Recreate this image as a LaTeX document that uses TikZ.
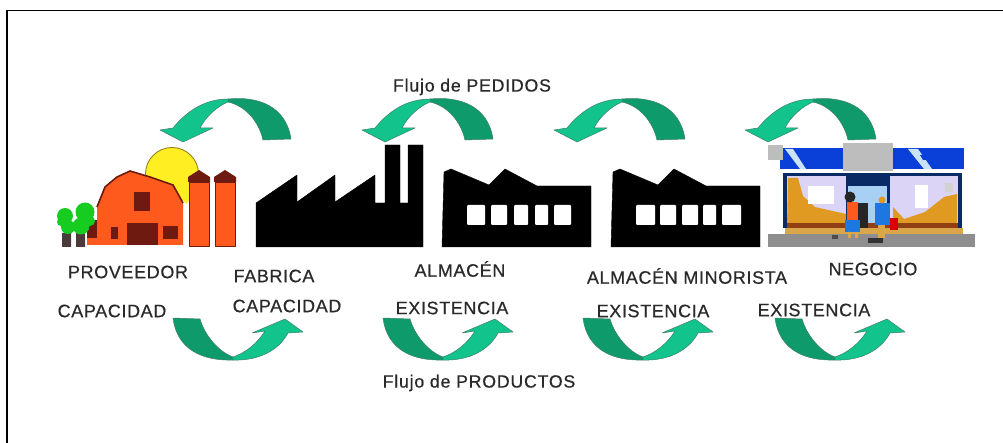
\documentclass[tikz,border=0pt]{standalone}
\usepackage{fontspec}
\setmainfont{Liberation Sans}
\newfontfamily\labfont[LetterSpace=3.5,FakeBold=0.6]{Liberation Sans}
\newfontfamily\flowfont[LetterSpace=4.5,FakeBold=0.6]{Liberation Sans}
\definecolor{arrowdark}{HTML}{0F9A6C}
\definecolor{arrowlight}{HTML}{12C48C}
\definecolor{arrowline}{HTML}{3F7F6A}
\definecolor{barn}{HTML}{FF5A1E}
\definecolor{barnline}{HTML}{6E1A10}
\definecolor{sunfill}{HTML}{FFEE22}
\definecolor{sunline}{HTML}{8A7A10}
\definecolor{treefill}{HTML}{16CC20}
\definecolor{trunk}{HTML}{4A3A3A}
\definecolor{awning}{HTML}{0A3FD8}
\definecolor{frameblue}{HTML}{0A2A66}
\definecolor{boxgray}{HTML}{BDBDBD}
\definecolor{walkgray}{HTML}{8E8E8E}
\definecolor{glass}{HTML}{DCD4F6}
\definecolor{goods}{HTML}{E09A22}
\definecolor{tan}{HTML}{DBA64A}
\definecolor{doorblue}{HTML}{A8D0F4}
\definecolor{shopperblue}{HTML}{1C78E0}
\definecolor{labelcolor}{HTML}{2A2A2A}
\tikzset{
  x=1pt,y=-1pt,
  lab/.style={text=labelcolor,inner sep=0pt,font=\fontsize{18}{18}\selectfont\labfont},
  flow/.style={text=labelcolor,inner sep=0pt,font=\fontsize{17.7}{18}\selectfont\flowfont},
  adark/.style={fill=arrowdark,draw=arrowline,line width=.5pt,line join=round},
  alight/.style={fill=arrowlight,draw=arrowline,line width=.5pt,line join=round},
  blackshape/.style={fill=black,draw=black,line width=.4pt,line join=round},
  barnpart/.style={fill=barn,draw=barnline,line width=.8pt,line join=round},
  darkpart/.style={fill=barnline,draw=none},
  pics/toparrow/.style={code={
    \path[adark] (0,-1) .. controls (30,-4) and (58,6) .. (63,39) -- (35,40) .. controls (31,22) and (18,6) .. (0,2) -- cycle;
    \path[alight] (0,-1) .. controls (-24,-1) and (-42,12) .. (-55,28) -- (-68,30) -- (-45,42) -- (-15,28) -- (-28,28) .. controls (-22,16) and (-10,6) .. (0,2) -- cycle;
  }},
  pics/botarrow/.style={code={
    \path[adark] (0,2) .. controls (-30,3) and (-56,-8) .. (-60,-40) -- (-33,-39) .. controls (-28,-22) and (-14,-6) .. (0,-1) -- cycle;
    \path[alight] (0,2) .. controls (26,3) and (46,-8) .. (55,-25) -- (70,-26) -- (52,-39) -- (19,-25) -- (32,-27) .. controls (24,-14) and (12,-5) .. (0,-1) -- cycle;
  }},
  pics/silo/.style={code={
    \path[barnpart] (-10,2) rectangle (10,66);
    \path[fill=barnline] (-11,-3) -- (0,-10) -- (11,-3) -- (11,2) -- (-11,2) -- cycle;
  }},
  pics/depot/.style={code={
    \path[blackshape] (0,74) -- (2,-1) -- (9,-4) -- (47,12) -- (63,-4) -- (95,13) -- (149,13) -- (149,74) -- cycle;
  }},
  win/.style={fill=white,draw=none,rounded corners=1pt}
}
\begin{document}
\begin{tikzpicture}
\useasboundingbox (0,0) rectangle (1003,443);
\fill[white] (0,0) rectangle (1003,443);
\draw[black,line width=1.2pt] (7,443) -- (7,10.5) -- (1003,10.5);

% flow arrows
\pic at (228,100) {toparrow};
\pic at (430,100) {toparrow};
\pic at (622,100) {toparrow};
\pic at (813,100) {toparrow};
\pic at (233,358) {botarrow};
\pic at (443,358) {botarrow};
\pic at (643,358) {botarrow};
\pic at (835,358) {botarrow};

% farm
\path[fill=sunfill,draw=sunline,line width=.8pt] (172,174) circle (26.5);
\path[fill=sunfill] (170,190) -- (198,185) -- (187,204) -- cycle;
\path[darkpart] (87,220) rectangle (101,245);
\path[fill=barn] (87,238) rectangle (101,245);
\path[fill=barn,draw=none] (97,207) -- (105,187) -- (117,177) -- (130,171) -- (150,177) -- (173,185) -- (183,203) -- (183,245) -- (97,245) -- cycle;
\path[draw=barnline,line width=1.6pt,line join=round] (97,207) -- (105,187) -- (117,177) -- (130,171) -- (150,177) -- (173,185) -- (183,203);
\path[darkpart] (134,192) rectangle (150,211);
\path[darkpart] (127,223) rectangle (158,245);
\path[darkpart] (111,227) rectangle (118,239);
\path[darkpart] (163,226) rectangle (178,239);
\pic at (199,180) {silo};
\pic at (225,180) {silo};
\path[fill=trunk] (62,233) rectangle (71,247) (76,233) rectangle (85,247);
\path[fill=treefill] (65,216) circle (8) (68,227) circle (7) (61,222) circle (4);
\path[fill=treefill] (85,212) circle (9.5) (81,226) circle (8.5) (90,221) circle (5);

% factory
\path[blackshape] (256,247) -- (256,203) -- (297,175) -- (297,202) -- (335,175) -- (335,202) -- (375,175) -- (375,203) -- (385,203) -- (385,145) -- (400,145) -- (400,203) -- (408,203) -- (408,145) -- (423,145) -- (423,247) -- cycle;

% warehouses
\pic at (442,173) {depot};
\path[win] (467,205) rectangle (485,225);
\path[win] (491,205) rectangle (507,225);
\path[win] (514,205) rectangle (528,225);
\path[win] (535,205) rectangle (548,225);
\path[win] (554,205) rectangle (571,225);
\pic at (611,173) {depot};
\path[win] (636,205) rectangle (655,225);
\path[win] (660,205) rectangle (676,225);
\path[win] (682,205) rectangle (698,225);
\path[win] (703,205) rectangle (716,225);
\path[win] (722,205) rectangle (741,225);

% shop
\path[fill=awning] (780,148) rectangle (964,169);
\path[fill=doorblue!60!white] (785,149) -- (793,149) -- (806,169) -- (800,169) -- cycle;
\path[fill=doorblue!60!white] (908,149) -- (918,149) -- (932,169) -- (924,169) -- cycle;
\path[fill=awning] (920,155) -- (926,155) -- (929,160) -- (923,160) -- cycle;
\path[fill=boxgray] (768,145) rectangle (783,160);
\path[fill=frameblue] (783,173) rectangle (962,228);
\path[fill=glass] (787,176) rectangle (846,226);
\path[fill=glass] (890,176) rectangle (958,226);
\path[fill=goods] (788,178) -- (798,178) -- (803,196) -- (815,207) -- (846,214) -- (846,226) -- (787,226) -- cycle;
\path[fill=white] (808,186) rectangle (834,204);
\path[fill=goods] (893,207) -- (904,219) -- (925,212) -- (944,197) -- (957,194) -- (957,226) -- (893,226) -- cycle;
\path[fill=white] (915,185) rectangle (928,208);
\path[fill=boxgray!70!white] (945,183) rectangle (953,192);
\path[fill=doorblue] (848,180) rectangle (887,226);
\path[fill=frameblue] (848,180) rectangle (887,186);
\path[fill=barnline!70!goods] (787,223) rectangle (958,228);
\path[fill=tan] (785,228) rectangle (963,234);
\path[fill=walkgray] (768,234) rectangle (975,247);
\path[fill=boxgray] (843,143) rectangle (893,171);
% shoppers
\path[fill=black!85] (858,203) rectangle (868,228);
\path[fill=barn] (847,202) rectangle (858,221);
\path[fill=black!85] (850,197) circle (5.5);
\path[fill=shopperblue] (845,220) rectangle (860,232);
\path[fill=tan] (848,232) rectangle (851,238) (855,232) rectangle (858,238);
\path[fill=black!70] (832,235) rectangle (838,239);
\path[fill=shopperblue] (875,203) rectangle (890,225);
\path[fill=goods] (882,200) circle (3.5);
\path[fill=tan] (878,225) rectangle (885,238);
\path[fill=black!80] (868,238) rectangle (883,243);
\path[fill=red!85!black] (890,218) rectangle (898,230);

% labels
\node[flow] (pedidos) at (472,87) {Flujo de PEDIDOS};
\node[lab] (proveedor) at (128,272) {PROVEEDOR};
\node[lab] (fabrica) at (274,276) {FABRICA};
\node[lab] (almacen) at (460,269) {ALMACÉN};
\node[lab] (minorista) at (687,276) {ALMACÉN MINORISTA};
\node[lab] (negocio) at (873,269) {NEGOCIO};
\node[lab] (capa) at (112,311) {CAPACIDAD};
\node[lab] (capb) at (287,306) {CAPACIDAD};
\node[lab] (exa) at (452,308) {EXISTENCIA};
\node[lab] (exb) at (653,311) {EXISTENCIA};
\node[lab] (exc) at (814,310) {EXISTENCIA};
\node[flow] (productos) at (479,383) {Flujo de PRODUCTOS};
\end{tikzpicture}
\end{document}
